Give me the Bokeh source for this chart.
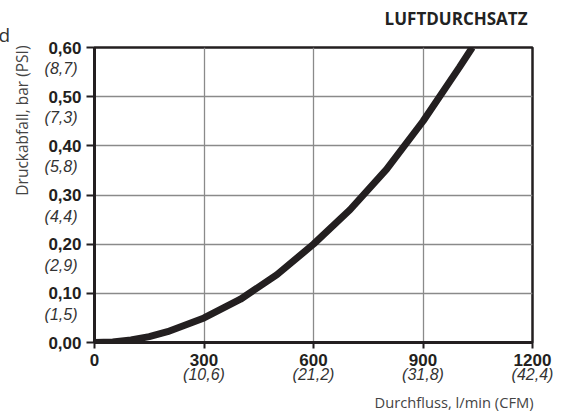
from bokeh.plotting import figure
from bokeh.models import FixedTicker, LinearAxis, Range1d, Title
from bokeh.embed import file_html
from bokeh.resources import INLINE

# ---- data ----
flow_lpm = [0, 50, 100, 150, 200, 300, 400, 500, 600, 700, 800, 900, 1000, 1035]
pressure_bar = [0, 0.001, 0.005, 0.012, 0.022, 0.05, 0.088, 0.138, 0.2, 0.27, 0.352, 0.45, 0.56, 0.6]

x_ticks = [0, 300, 600, 900, 1200]
x_labels = ["0", "300", "600", "900", "1200"]
x_labels_cfm = ["", "(10,6)", "(21,2)", "(31,8)", "(42,4)"]

y_ticks = [0.0, 0.1, 0.2, 0.3, 0.4, 0.5, 0.6]
y_labels = ["0,00", "0,10", "0,20", "0,30", "0,40", "0,50", "0,60"]
y_labels_psi = ["", "(1,5)", "(2,9)", "(4,4)", "(5,8)", "(7,3)", "(8,7)"]

title_text = "LUFTDURCHSATZ"
x_title = "Durchfluss, l/min (CFM)"
y_title = "Druckabfall, bar (PSI)"

DARK = "#231f20"
GRID = "#8a8a8a"
FRAME_H = 295
X0, X1 = 0, 1200
Y0, Y1 = 0, 0.6

p = figure(width=567, height=416, x_range=(X0, X1), y_range=(Y0, Y1),
           output_backend="svg", toolbar_location=None,
           min_border_left=93, min_border_right=35, min_border_top=47, min_border_bottom=74)
p.background_fill_color = "white"
p.border_fill_color = "white"
p.outline_line_color = DARK
p.outline_line_width = 2.5

for ax, ticks, labels in ((p.xaxis[0], x_ticks, x_labels), (p.yaxis[0], y_ticks, y_labels)):
    ax.ticker = FixedTicker(ticks=ticks)
    ax.major_label_overrides = {t: l for t, l in zip(ticks, labels)}
    ax.axis_line_color = DARK
    ax.axis_line_width = 3
    ax.major_tick_line_color = DARK
    ax.major_tick_line_width = 2
    ax.major_tick_in = 0
    ax.minor_tick_line_color = None
    ax.major_label_text_font = "Liberation Sans"
    ax.major_label_text_font_style = "bold"
    ax.major_label_text_font_size = "17px"
    ax.major_label_text_color = DARK

p.xaxis.major_tick_out = 6
p.xaxis.major_label_standoff = 5
p.yaxis.major_tick_out = 8
p.yaxis.major_label_standoff = 5

# secondary (imperial) labels as extra axes
shift = 21 * (Y1 - Y0) / FRAME_H  # psi labels sit 21px below the bar labels
p.extra_y_ranges = {"psi": Range1d(Y0 + shift, Y1 + shift)}

x_cfm = LinearAxis(ticker=FixedTicker(ticks=x_ticks),
                   major_label_overrides={t: l for t, l in zip(x_ticks, x_labels_cfm)})
y_psi = LinearAxis(y_range_name="psi", ticker=FixedTicker(ticks=y_ticks),
                   major_label_overrides={t: l for t, l in zip(y_ticks, y_labels_psi)})
for ax in (x_cfm, y_psi):
    ax.axis_line_color = None
    ax.major_tick_line_color = None
    ax.minor_tick_line_color = None
    ax.major_tick_out = 0
    ax.major_tick_in = 0
    ax.major_label_text_font = "Liberation Sans"
    ax.major_label_text_font_style = "italic"
    ax.major_label_text_font_size = "16px"
    ax.major_label_text_color = "#333333"
x_cfm.major_label_standoff = -3
y_psi.major_label_standoff = -32
p.add_layout(x_cfm, "below")
p.add_layout(y_psi, "left")

p.xgrid.ticker = FixedTicker(ticks=x_ticks)
p.ygrid.ticker = FixedTicker(ticks=y_ticks)
for g in (p.xgrid[0], p.ygrid[0]):
    g.grid_line_color = GRID
    g.grid_line_width = 1.3

p.line(flow_lpm, pressure_bar, line_color=DARK, line_width=7, line_cap="butt")

# titles in side panels
p.add_layout(Title(text="d", align="left", offset=-96, standoff=-1,
                   text_font="Open Sans", text_font_style="normal",
                   text_font_size="19px", text_color="#333333"), "above")
p.add_layout(Title(text=title_text, align="right", offset=5, standoff=-19,
                   text_font="Open Sans", text_font_style="bold",
                   text_font_size="17px", text_color="#222222"), "above")
p.add_layout(Title(text=x_title, align="right", offset=-1, standoff=8,
                   text_font="Open Sans", text_font_style="normal",
                   text_font_size="14.7px", text_color="#444444"), "below")
p.add_layout(Title(text=y_title, align="right", offset=-2, standoff=17,
                   text_font="Open Sans", text_font_style="normal",
                   text_font_size="15.5px", text_color="#444444"), "left")

open("out.html", "w").write(file_html(p, INLINE))
